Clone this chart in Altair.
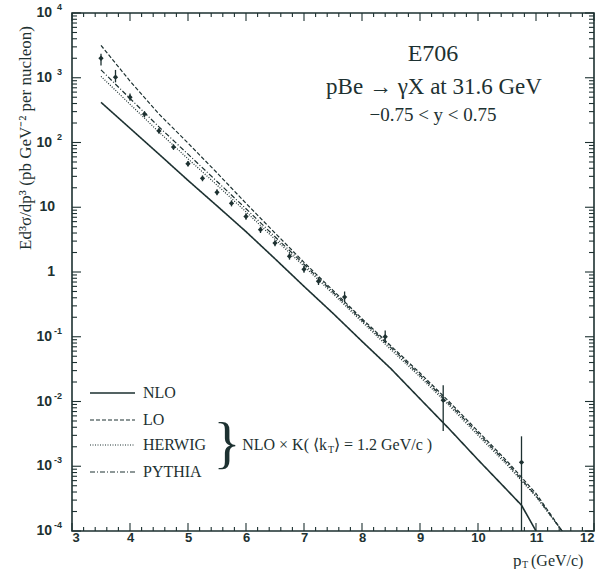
import altair as alt
import pandas as pd

# ---------------------------------------------------------------- data
# Theory curves (pT in GeV/c, cross section in pb GeV^-2 per nucleon)
nlo_pt = [3.5, 4.0, 4.5, 5.0, 5.5, 6.0, 6.5, 7.0, 7.5, 8.0, 8.5, 9.0, 9.5, 10.0,
          10.5, 10.75, 11.0]
nlo_val = [417, 166, 66, 26, 10.5, 4.2, 1.6, 0.60, 0.23, 0.085, 0.032, 0.011,
           0.0038, 0.00126, 4.3e-4, 2.5e-4, 1.0e-4]

kt_pt = [3.5, 4.0, 4.5, 5.0, 5.5, 6.0, 6.5, 7.0, 7.5, 8.0, 8.5, 9.0, 9.5, 10.0, 10.5, 11.0, 11.45]
lo_val = [3160, 890, 275, 98, 34, 11.5, 4.0, 1.41, 0.52, 0.19, 0.072, 0.0275,
          0.0100, 0.00347, 0.00120, 3.8e-4, 1.0e-4]
pythia_val = [1320, 480, 174, 66, 25, 9.5, 3.5, 1.32, 0.49, 0.18, 0.068, 0.0257,
              0.0093, 0.00324, 0.00112, 3.5e-4, 1.0e-4]
herwig_val = [1050, 390, 145, 56, 22, 8.5, 3.2, 1.23, 0.46, 0.17, 0.063, 0.024,
              0.0087, 0.0030, 0.00105, 3.4e-4, 1.0e-4]

# E706 measurements with error bars
e706_pt = [3.5, 3.75, 4.0, 4.25, 4.5, 4.75, 5.0, 5.25, 5.5, 5.75, 6.0, 6.25,
           6.5, 6.75, 7.0, 7.25, 7.7, 8.4, 9.4, 10.75]
e706_val = [2000, 1020, 500, 275, 151, 85, 47, 28, 17, 11.5, 7.2, 4.5,
            2.8, 1.75, 1.1, 0.72, 0.41, 0.10, 0.0105, 0.00115]
e706_lo = [1550, 850, 440, 245, 136, 77, 42.5, 25.2, 15.3, 10.3, 6.4, 4.0,
           2.5, 1.55, 0.97, 0.63, 0.34, 0.080, 0.0035, 1.0e-4]
e706_hi = [2350, 1320, 570, 305, 167, 94, 52, 31, 19, 12.8, 8.1, 5.0,
           3.1, 1.95, 1.25, 0.82, 0.50, 0.125, 0.0178, 0.0029]

# axis decorations
x_labels = [3, 4, 5, 6, 7, 8, 9, 10, 11, 12]
decades = [1e4, 1e3, 1e2, 1e1, 1e0, 1e-1, 1e-2, 1e-3, 1e-4]
decade_base = ["10", "10", "10", "10", "1", "10", "10", "10", "10"]
decade_exp = ["4", "3", "2", "", "", "-1", "-2", "-3", "-4"]

legend_names = ["NLO", "LO", "HERWIG", "PYTHIA"]
legend_dash = [[1, 0], [4, 2], [1, 1.5], [5, 2, 1, 2]]

# ---------------------------------------------------------------- layout
W, H = 522, 518
INK = "#1d3131"
SERIF = "Liberation Serif"
SANS = "Liberation Sans"

xs = alt.Scale(domain=[3, 12], nice=False, zero=False)
ys = alt.Scale(type="log", domain=[1e-4, 1e4], nice=False)
x_axis = alt.Axis(values=x_labels, format="d", title=None, ticks=False, domain=False,
                  grid=False, labelFont=SANS, labelFontWeight="bold", labelFontSize=13,
                  labelColor=INK, labelPadding=0)


def X(field="pT"):
    return alt.X(f"{field}:Q", scale=xs, axis=x_axis)


def Y(field="v"):
    return alt.Y(f"{field}:Q", scale=ys, axis=None)


def curve(pt, val, dash, width):
    df = pd.DataFrame({"pT": pt, "v": val})
    return alt.Chart(df).mark_line(color=INK, strokeWidth=width, strokeDash=dash,
                                   clip=True).encode(x=X(), y=Y())


nlo = curve(nlo_pt, nlo_val, legend_dash[0], 1.6)
lo = curve(kt_pt, lo_val, legend_dash[1], 1.2)
herwig = curve(kt_pt, herwig_val, legend_dash[2], 1.2)
pythia = curve(kt_pt, pythia_val, legend_dash[3], 1.2)

pts = pd.DataFrame({"pT": e706_pt, "v": e706_val, "lo": e706_lo, "hi": e706_hi})
bars = alt.Chart(pts).mark_rule(color=INK, strokeWidth=1.3).encode(
    x=X(), y=Y("lo"), y2="hi")
marks = alt.Chart(pts).mark_point(shape="diamond", filled=True, color=INK, size=28,
                                  opacity=1).encode(x=X(), y=Y())

# inward tick marks on all four sides
x_major = [float(t) for t in x_labels]
x_minor = [3 + 0.2 * i for i in range(46) if i % 5 != 0]
y_major = decades
y_minor = [m * d for d in decades[1:] for m in range(2, 10)]


def xticks(vals, length):
    df = pd.DataFrame({"pT": vals})
    bottom = alt.Chart(df).mark_rule(color=INK, strokeWidth=1.1).encode(
        x=X(), y=alt.value(H), y2=alt.value(H - length))
    top = alt.Chart(df).mark_rule(color=INK, strokeWidth=1.1).encode(
        x=X(), y=alt.value(0), y2=alt.value(length))
    return [bottom, top]


def yticks(vals, length):
    df = pd.DataFrame({"v": vals})
    left = alt.Chart(df).mark_rule(color=INK, strokeWidth=1.1).encode(
        y=Y(), x=alt.value(0), x2=alt.value(length))
    right = alt.Chart(df).mark_rule(color=INK, strokeWidth=1.1).encode(
        y=Y(), x=alt.value(W), x2=alt.value(W - length))
    return [left, right]


ticks = xticks(x_major, 8) + xticks(x_minor, 4) + yticks(y_major, 9) + yticks(y_minor, 5)

# y tick labels: "10" with a raised exponent
ylab = pd.DataFrame({"v": decades, "base": decade_base, "exp": decade_exp})
ylab_base10 = alt.Chart(ylab[ylab["exp"] != ""]).mark_text(
    font=SANS, fontWeight="bold", fontSize=14, color=INK, align="right",
    baseline="middle").encode(y=Y(), x=alt.value(-20), text="base:N")
ylab_exp = alt.Chart(ylab[ylab["exp"] != ""]).mark_text(
    font=SANS, fontWeight="bold", fontSize=9, color=INK, align="right",
    baseline="middle", dy=-6).encode(y=Y(), x=alt.value(-10), text="exp:N")
ylab_plain = alt.Chart(ylab[ylab["exp"] == ""]).mark_text(
    font=SANS, fontWeight="bold", fontSize=14, color=INK, align="right",
    baseline="middle").encode(y=Y(), x=alt.value(-17), text="base:N")


def label(txt, x, y, size, align="left", font=SERIF, angle=0, weight="normal"):
    kw = dict(text=txt, font=font, fontSize=size, color=INK, align=align,
              baseline="middle", fontWeight=weight)
    if angle:
        kw["angle"] = angle
    return alt.Chart(pd.DataFrame({"a": [0]})).mark_text(**kw).encode(
        x=alt.value(x), y=alt.value(y))


annotations = [
    label("E706", 361, 41, 24, "center"),
    label("pBe \u2192 \u03b3X at 31.6 GeV", 362, 74, 23, "center"),
    label("\u22120.75 < y < 0.75", 361, 102, 19, "center"),
    label("Ed\u00b3\u03c3/dp\u00b3 (pb GeV\u207b\u00b2 per nucleon)", -46, 125, 17,
          "center", angle=270),
    label("p", 441, H + 30, 17),
    label("T", 450, H + 34, 10),
    label("(GeV/c)", 459, H + 30, 16),
    label("}", 155, 432, 56, "center"),
    label("NLO \u00d7 K( \u27e8k", 255, 432, 16, "right"),
    label("T", 256, 437, 10),
    label("\u27e9 = 1.2 GeV/c )", 262, 432, 16),
]

legend_rows = [380, 407, 432, 459]
legend = []
for name, dash, yy in zip(legend_names, legend_dash, legend_rows):
    legend.append(
        alt.Chart(pd.DataFrame({"a": [0]})).mark_rule(
            color=INK, strokeWidth=1.4 if name == "NLO" else 1.2, strokeDash=dash).encode(
            x=alt.value(18), x2=alt.value(63), y=alt.value(yy)))
    legend.append(label(name, 71, yy, 16))

chart = alt.layer(
    nlo, lo, herwig, pythia, bars, marks, *ticks,
    ylab_base10, ylab_exp, ylab_plain, *annotations, *legend,
).properties(
    width=W, height=H,
    autosize=alt.AutoSizeParams(type="none"),
    padding={"left": 72, "top": 13, "right": 7, "bottom": 38},
    background="white",
).configure_view(stroke=INK, strokeWidth=1.6)

chart.save("out.html", embed_options={"renderer": "svg", "actions": False})
